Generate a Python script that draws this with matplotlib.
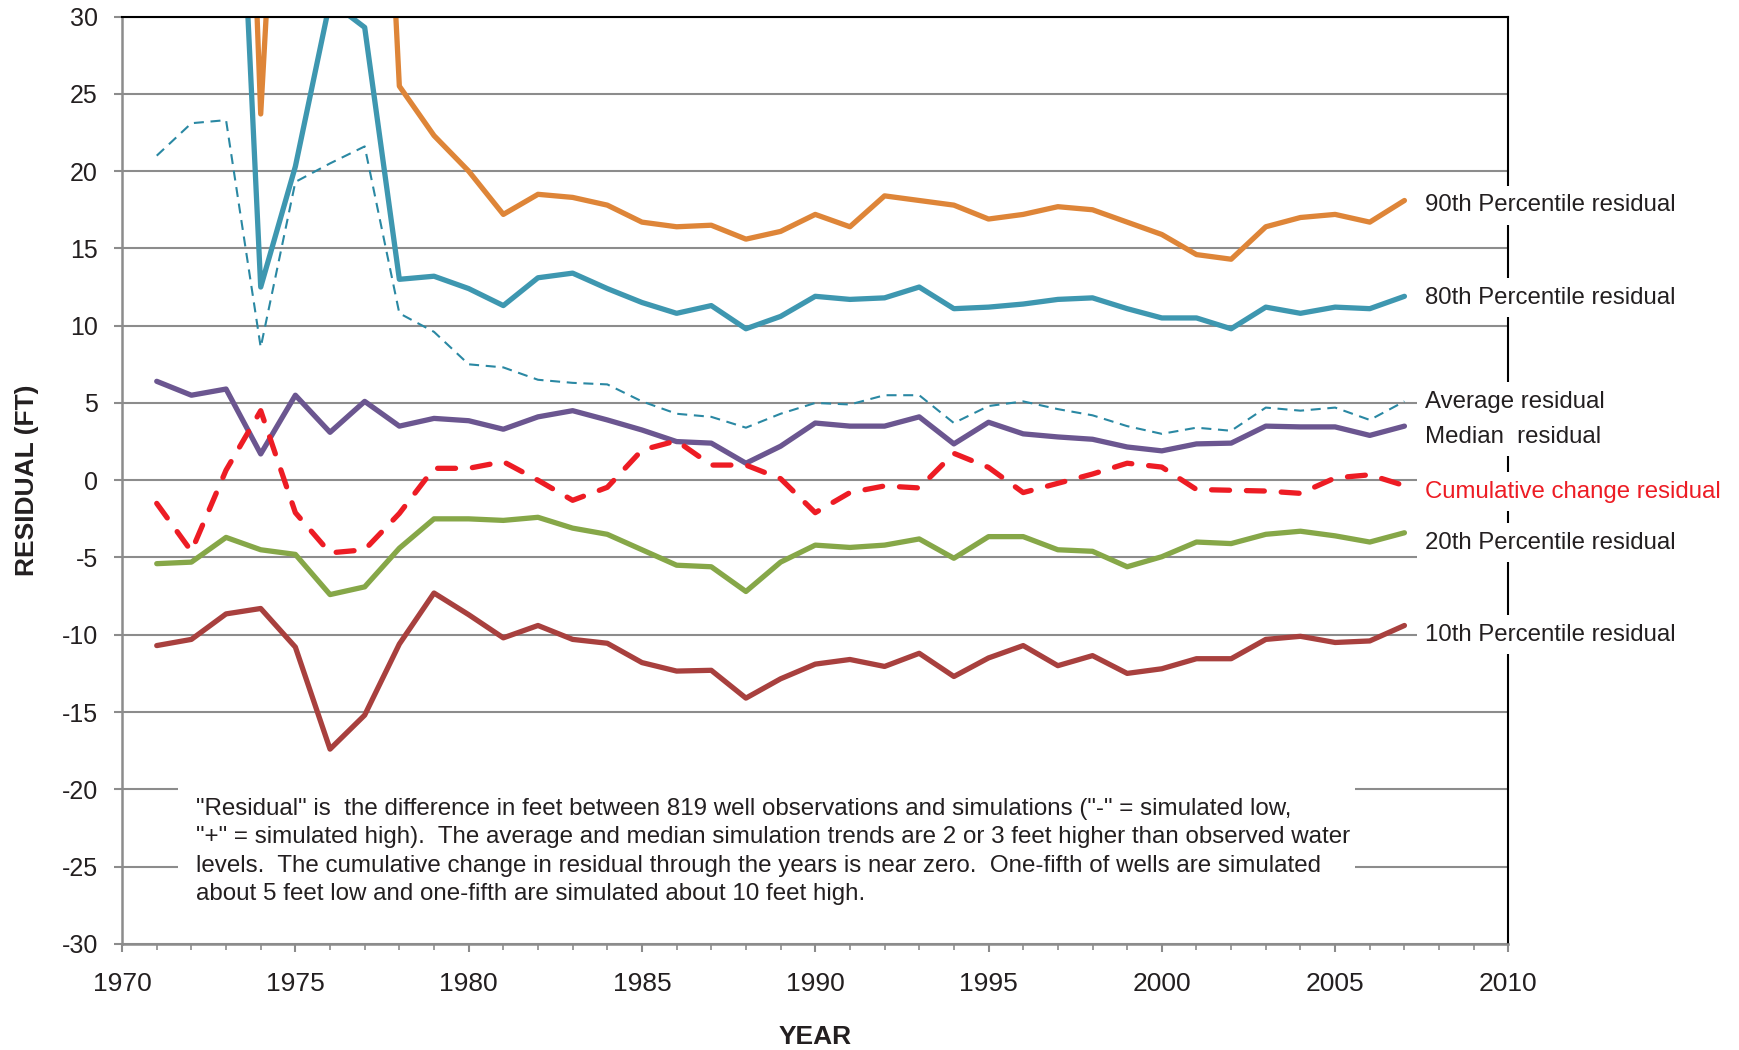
import matplotlib
matplotlib.use("Agg")
import matplotlib.pyplot as plt
from matplotlib.patches import Rectangle

plt.rcParams['font.family'] = ['Liberation Sans', 'DejaVu Sans']
plt.rcParams['axes.unicode_minus'] = False

years = list(range(1971, 2008))

# values above 30 run off the top of the chart (estimated from line slopes)
p90 = [70, 78, 84, 23.7, 64, 70, 70, 25.5, 22.3, 20.0, 17.2, 18.5, 18.3, 17.8, 16.7, 16.4, 16.5,
       15.6, 16.1, 17.2, 16.4, 18.4, 18.1, 17.8, 16.9, 17.2, 17.7, 17.5, 16.7, 15.9, 14.6, 14.3,
       16.4, 17.0, 17.2, 16.7, 18.1]
p80 = [60, 62, 60, 12.5, 20.3, 31.0, 29.3, 13.0, 13.2, 12.4, 11.3, 13.1, 13.4, 12.4, 11.5, 10.8,
       11.3, 9.8, 10.6, 11.9, 11.7, 11.8, 12.5, 11.1, 11.2, 11.4, 11.7, 11.8, 11.1, 10.5, 10.5,
       9.8, 11.2, 10.8, 11.2, 11.1, 11.9]
average = [21.0, 23.1, 23.3, 8.6, 19.3, 20.5, 21.6, 10.8, 9.6, 7.5, 7.3, 6.5, 6.3, 6.2, 5.1, 4.3,
           4.1, 3.4, 4.3, 5.0, 4.9, 5.5, 5.5, 3.7, 4.8, 5.1, 4.6, 4.2, 3.5, 3.0, 3.4, 3.2, 4.7,
           4.5, 4.7, 3.9, 5.1]
median = [6.4, 5.5, 5.9, 1.7, 5.5, 3.1, 5.1, 3.5, 4.0, 3.85, 3.3, 4.1, 4.5, 3.9, 3.25, 2.5, 2.4,
          1.1, 2.2, 3.7, 3.5, 3.5, 4.1, 2.35, 3.75, 3.0, 2.8, 2.65, 2.15, 1.9, 2.35, 2.4, 3.5,
          3.45, 3.45, 2.9, 3.5]
cumulative = [-1.5, -4.6, 0.65, 4.5, -2.1, -4.7, -4.5, -2.15, 0.77, 0.77, 1.2, 0.0, -1.3, -0.46,
              1.95, 2.55, 0.98, 0.98, 0.1, -2.1, -0.8, -0.37, -0.5, 1.74, 0.83, -0.8, -0.2, 0.4,
              1.1, 0.85, -0.6, -0.65, -0.7, -0.85, 0.15, 0.35, -0.35]
p20 = [-5.4, -5.3, -3.7, -4.5, -4.8, -7.4, -6.9, -4.4, -2.5, -2.5, -2.6, -2.4, -3.1, -3.5, -4.5,
       -5.5, -5.6, -7.2, -5.3, -4.2, -4.35, -4.2, -3.8, -5.05, -3.65, -3.65, -4.5, -4.6, -5.6,
       -4.95, -4.0, -4.1, -3.5, -3.3, -3.6, -4.0, -3.4]
p10 = [-10.7, -10.3, -8.65, -8.3, -10.8, -17.4, -15.2, -10.6, -7.3, -8.7, -10.2, -9.4, -10.3,
       -10.55, -11.8, -12.35, -12.3, -14.1, -12.85, -11.9, -11.6, -12.05, -11.2, -12.7, -11.5,
       -10.7, -12.0, -11.35, -12.5, -12.2, -11.55, -11.55, -10.3, -10.1, -10.5, -10.4, -9.4]

labels = ["90th Percentile residual", "80th Percentile residual", "Average residual",
          "Median  residual", "Cumulative change residual", "20th Percentile residual",
          "10th Percentile residual"]
label_y = [17.8, 11.8, 5.08, 2.8, -0.74, -4.04, -10.0]

note = ('"Residual" is  the difference in feet between 819 well observations and simulations ("-" = simulated low,\n'
        '"+" = simulated high).  The average and median simulation trends are 2 or 3 feet higher than observed water\n'
        'levels.  The cumulative change in residual through the years is near zero.  One-fifth of wells are simulated\n'
        'about 5 feet low and one-fifth are simulated about 10 feet high.')

grid_c = '#8c8c8c'
text_c = '#231f20'

fig = plt.figure(figsize=(17.39, 10.5), dpi=100)
ax = fig.add_axes([0.0702, 0.1011, 0.7972, 0.8831])

lw = 3.8
ax.plot(years, p90, color='#de8538', lw=lw, solid_capstyle='round', solid_joinstyle='round')
ax.plot(years, p80, color='#3e97b0', lw=lw, solid_capstyle='round', solid_joinstyle='round')
ax.plot(years, average, color='#2a88a3', lw=1.5, dashes=(4.8, 3.2))
ax.plot(years, median, color='#6b5690', lw=lw, solid_capstyle='round', solid_joinstyle='round')
ax.plot(years, cumulative, color='#ed1c24', lw=lw, dashes=(3.4, 3.2), dash_capstyle='round')
ax.plot(years, p20, color='#86a748', lw=lw, solid_capstyle='round', solid_joinstyle='round')
ax.plot(years, p10, color='#a8403e', lw=lw, solid_capstyle='round', solid_joinstyle='round')

ax.set_xlim(1970, 2010)
ax.set_ylim(-30, 30)
ax.set_xticks(range(1970, 2011, 5))
ax.set_xticks(range(1970, 2011), minor=True)
ax.set_yticks(range(-30, 31, 5))
ax.yaxis.grid(True, color=grid_c, lw=1.5)
ax.set_axisbelow(True)

for s in ['left', 'bottom']:
    ax.spines[s].set_color(grid_c)
    ax.spines[s].set_linewidth(1.8)
for s in ['top', 'right']:
    ax.spines[s].set_color('black')
    ax.spines[s].set_linewidth(1.5)

ax.tick_params(axis='y', direction='out', length=5.5, width=1.5, color=grid_c,
               labelsize=18, pad=12, labelcolor=text_c)
ax.tick_params(axis='x', which='major', direction='out', length=6, width=1.5, color=grid_c,
               labelsize=19, pad=14, labelcolor=text_c)
ax.tick_params(axis='x', which='minor', direction='out', length=4.5, width=1.2, color=grid_c)

ax.set_xlabel('YEAR', fontsize=19, fontweight='bold', color=text_c, labelpad=21)
ax.set_ylabel('RESIDUAL (FT)', fontsize=19, fontweight='bold', color=text_c, labelpad=16)

# white note box covering the gridlines
ax.add_patch(Rectangle((0.04, 0.028), 0.849, 0.155, transform=ax.transAxes,
                       facecolor='white', edgecolor='none', zorder=1.5))
ax.text(0.0536, 0.0995, note, transform=ax.transAxes, fontsize=17.4, color=text_c,
        va='center', ha='left', linespacing=1.38, zorder=3)

for lab, yy in zip(labels, label_y):
    c = '#ed1c24' if lab.startswith('Cumulative') else text_c
    ax.text(2007.6, yy, lab, fontsize=17.3, color=c, va='center', ha='left', zorder=4,
            bbox=dict(boxstyle='square,pad=0.35', facecolor='white', edgecolor='none'),
            clip_on=False)

fig.savefig('out.png', dpi=100)
